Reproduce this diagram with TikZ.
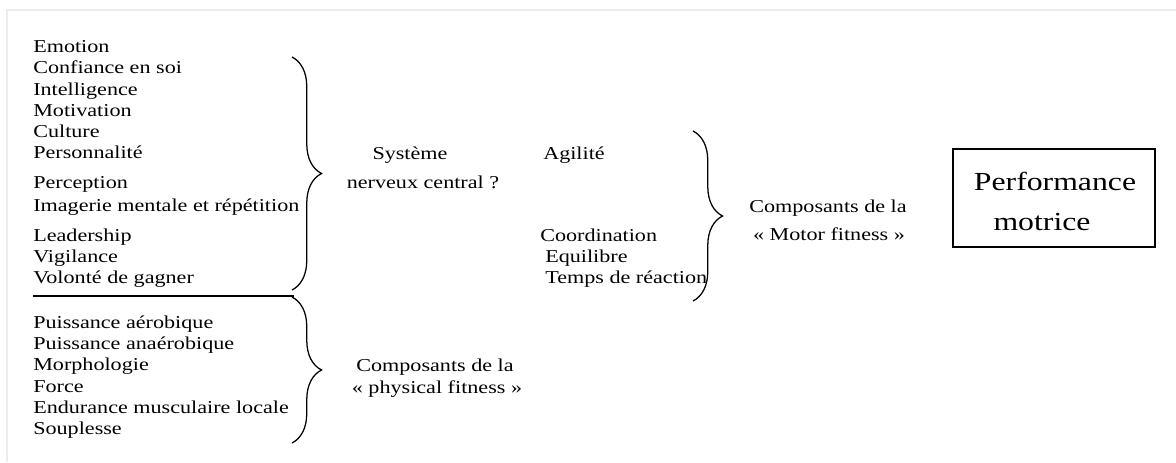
\documentclass[tikz,border=0pt]{standalone}
\usepackage{fontspec}
\setmainfont{Liberation Serif}[FakeStretch=1.22]
\usepackage{tikz}
\usetikzlibrary{
    decorations.pathreplacing,
    positioning
}
\newcommand{\itemfont}{\fontsize{12.9}{15}\selectfont}
\newcommand{\bigfont}{\fontsize{18.5}{22}\selectfont}
\tikzset{
    item/.style={anchor=base west, inner sep=0pt, font=\itemfont},
    caption/.style={anchor=base, inner sep=0pt, font=\itemfont},
    accolade/.style={decorate, decoration={brace, amplitude=21pt}, line width=0.9pt}
}

\begin{document}
\begin{tikzpicture}[x=0.025cm, y=-0.025cm]
                        \useasboundingbox (0, 0) rectangle (1176, 462);
                        % page edge
                        \draw[gray!15, line width=2pt] (7, 462) -- (7, 10) -- (1176, 10);
                        % psychological factors
                        \foreach \i/\y/\txt in {1/52/Emotion, 2/73/Confiance en soi, 3/95/Intelligence,
                            4/116/Motivation, 5/137/Culture, 6/158/Personnalité, 7/188/Perception,
                            8/211/Imagerie mentale et répétition, 9/241/Leadership, 10/262/Vigilance,
                            11/283/Volonté de gagner}
                            \node[item] (psy\i) at (33, \y) {\txt};
                        % physical factors
                        \foreach \i/\y/\txt in {1/328/Puissance aérobique, 2/349/Puissance anaérobique,
                            3/370/Morphologie, 4/392/Force, 5/413/Endurance musculaire locale,
                            6/434/Souplesse}
                            \node[item] (phy\i) at (33, \y) {\txt};
                        \coordinate (sepl) at (33, 296);
                        \coordinate (sepr) at (294, 296);
                        \draw[line width=0.9pt] (sepl) -- (sepr);
                        % braces
                        \coordinate (b1t) at (292, 57);
                        \coordinate (b1b) at (292, 290);
                        \coordinate (b2t) at (292, 297);
                        \coordinate (b2b) at (292, 443);
                        \coordinate (b3t) at (693, 131);
                        \coordinate (b3b) at (693, 301);
                        \draw[accolade] (b1t) -- (b1b);
                        \draw[accolade] (b2t) -- (b2b);
                        \draw[accolade] (b3t) -- (b3b);
                        % middle column
                        \node[caption] (snc1) at (410, 159) {Système};
                        \node[caption] (snc2) at (423, 188) {nerveux central ?};
                        \node[item] (agil) at (543, 159) {Agilité};
                        \node[item] (coord) at (540, 241) {Coordination};
                        \node[item] (equil) at (545, 262) {Equilibre};
                        \node[item] (temps) at (545, 283) {Temps de réaction};
                        \node[caption] (phys1) at (435, 371) {Composants de la};
                        \node[caption] (phys2) at (437, 393) {« physical fitness »};
                        \node[caption] (mot1) at (828, 212) {Composants de la};
                        \node[caption] (mot2) at (829, 240) {« Motor fitness »};
                        % result box
                        \node[draw, line width=1.1pt, minimum width=5.05cm, minimum height=2.45cm] (perf) at (1054, 198) {};
                        \node[caption, font=\bigfont] (perf1) at (1055, 190) {Performance};
                        \node[caption, font=\bigfont] (perf2) at (1042, 230) {motrice};
                    \end{tikzpicture}
\end{document}
